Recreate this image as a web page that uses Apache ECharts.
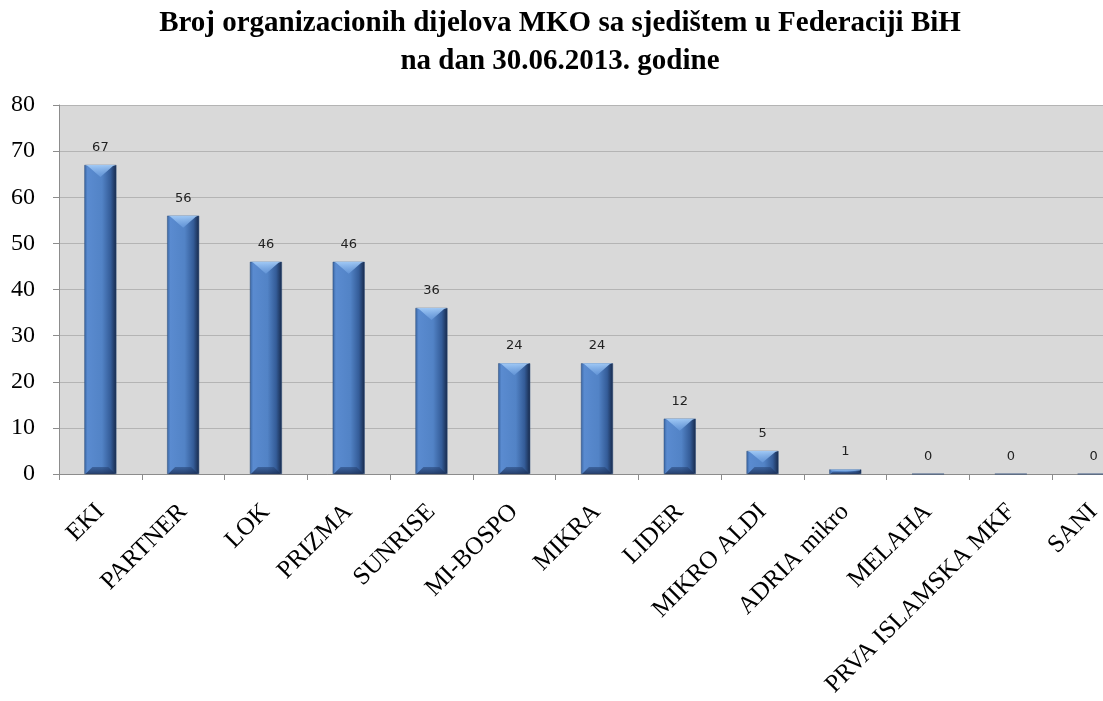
<!DOCTYPE html>
<html>
<head>
<meta charset="utf-8">
<script src="https://cdn.jsdelivr.net/npm/echarts@6/dist/echarts.min.js"></script>
<style>
html,body{margin:0;padding:0;background:#fff;overflow:hidden;width:1103px;height:701px;}
#chart{width:1135px;height:701px;}
</style>
</head>
<body>
<div id="chart"></div>
<script>
const titleText = 'Broj organizacionih dijelova MKO sa sjedištem u Federaciji BiH\nna dan 30.06.2013. godine';
const categories = ['EKI','PARTNER','LOK','PRIZMA','SUNRISE','MI-BOSPO','MIKRA','LIDER','MIKRO ALDI','ADRIA mikro','MELAHA','PRVA ISLAMSKA MKF','SANI'];
const values = [67,56,46,46,36,24,24,12,5,1,0,0,0];
const yMin = 0, yMax = 80, yInterval = 10;

const BAR_W = 32;
const chart = echarts.init(document.getElementById('chart'));

function renderBevel(params, api) {
  const idx = api.value(0);
  const val = api.value(1);
  const top = api.coord([idx, val]);
  const base = api.coord([idx, 0]);
  const h = base[1] - top[1];
  if (h < 3) return null;
  const hw = BAR_W / 2;
  const x = top[0];
  const d = Math.min(12, h / 2);
  const db = Math.min(7, h / 2);
  return {
    type: 'group',
    children: [
      {
        type: 'polygon',
        shape: { points: [[x - hw + 1, top[1]], [x + hw - 1, top[1]], [x + hw - 1 - d * 0.2, top[1] + 1], [x, top[1] + d], [x - hw + 1 + d * 0.2, top[1] + 1]] },
        style: {
          fill: new echarts.graphic.LinearGradient(0, 0, 0, 1, [
            { offset: 0, color: 'rgba(165,205,248,0.95)' },
            { offset: 1, color: 'rgba(110,160,225,0.6)' }
          ])
        }
      },
      {
        type: 'polygon',
        shape: { points: [[x - hw + 1, base[1]], [x + hw - 1, base[1]], [x + hw - 1 - db, base[1] - db], [x - hw + 1 + db, base[1] - db]] },
        style: {
          fill: new echarts.graphic.LinearGradient(0, 0, 0, 1, [
            { offset: 0, color: 'rgba(40,70,120,0.55)' },
            { offset: 1, color: 'rgba(25,45,85,0.8)' }
          ])
        }
      }
    ]
  };
}

chart.setOption({
  animation: false,
  backgroundColor: '#ffffff',
  title: {
    text: titleText,
    left: 555,
    textAlign: 'center',
    top: 0,
    textStyle: {
      fontFamily: 'Liberation Serif',
      fontWeight: 'bold',
      fontSize: 29,
      lineHeight: 38,
      color: '#000'
    }
  },
  grid: {
    left: 59,
    top: 105,
    bottom: 227,
    right: 0,
    containLabel: false,
    show: true,
    backgroundColor: '#d9d9d9',
    borderWidth: 0
  },
  xAxis: {
    type: 'category',
    data: categories,
    axisLine: { show: true, lineStyle: { color: '#8c8c8c', width: 1 } },
    axisTick: { show: true, length: 6, lineStyle: { color: '#8c8c8c' } },
    axisLabel: {
      rotate: 45,
      interval: 0,
      margin: 34,
      fontFamily: 'Liberation Serif',
      fontSize: 25,
      color: '#000'
    }
  },
  yAxis: {
    type: 'value',
    min: yMin,
    max: yMax,
    interval: yInterval,
    axisLine: { show: true, lineStyle: { color: '#8c8c8c', width: 1 } },
    axisTick: { show: true, length: 6, lineStyle: { color: '#8c8c8c' } },
    splitLine: { show: true, lineStyle: { color: '#b4b4b4', width: 1 } },
    axisLabel: {
      margin: 24,
      fontFamily: 'Liberation Serif',
      fontSize: 24,
      color: '#000'
    }
  },
  series: [{
    type: 'bar',
    data: values,
    barWidth: BAR_W,
    z: 2,
    itemStyle: {
      color: new echarts.graphic.LinearGradient(0, 0, 1, 0, [
        { offset: 0, color: '#3a66a3' },
        { offset: 0.1, color: '#5a8bd0' },
        { offset: 0.55, color: '#5283c6' },
        { offset: 0.82, color: '#345c98' },
        { offset: 1, color: '#17294a' }
      ]),
      borderColor: '#2a4a78',
      borderWidth: 0.5
    },
    label: {
      show: true,
      position: 'top',
      distance: 11,
      fontFamily: 'DejaVu Sans',
      fontSize: 13,
      color: '#222'
    }
  }, {
    type: 'custom',
    z: 3,
    silent: true,
    renderItem: renderBevel,
    data: values.map((v, i) => [i, v]),
    encode: { x: 0, y: 1 }
  }]
});
</script>
</body>
</html>
